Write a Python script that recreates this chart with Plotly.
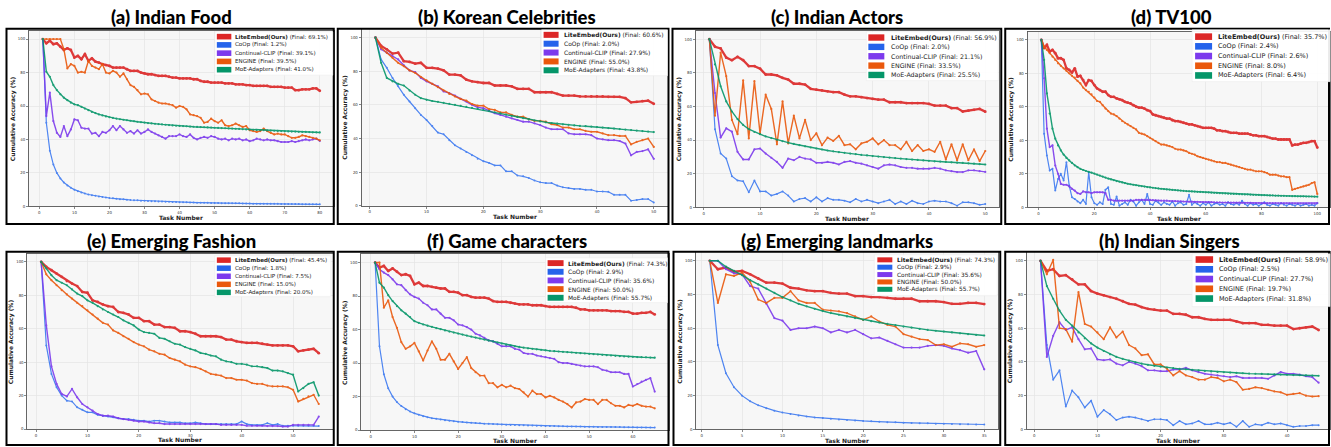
import plotly.graph_objects as go

W, H = 1331, 447

methods = ["LiteEmbed(Ours)", "CoOp", "Continual-CLIP", "ENGINE", "MoE-Adapters"]
titles = ["(a) Indian Food", "(b) Korean Celebrities", "(c) Indian Actors", "(d) TV100",
          "(e) Emerging Fashion", "(f) Game characters", "(g) Emerging landmarks", "(h) Indian Singers"]

# ---------------- (a) Indian Food ----------------
a_final = [69.1, 1.2, 39.1, 39.5, 41.0]
a_lite = [100, 97.5, 99, 97, 97.5, 95.5, 93.5, 94.5, 93.5, 89,
          90, 88, 91, 87, 88.5, 86.5, 86, 85, 84.5, 84,
          83, 83, 83, 83, 82, 81, 81, 81, 80, 79.5,
          79, 79, 78.5, 78, 78, 78, 77.5, 77, 77, 76.5,
          76.5, 76.5, 76.5, 76, 76, 75, 74.5, 74.5, 74, 74,
          74, 74, 73.5, 73.5, 73.5, 73, 73, 73, 72.5, 72.5,
          72, 72, 72, 72, 72, 71.5, 71.5, 71.5, 71.5, 71,
          71, 71, 69.5, 69.5, 70, 70, 70, 70.5, 70.5, 69.1]
a_coop = [100, 50, 33.3, 25, 20, 16.7, 14.3, 12.5, 11.1, 10,
          9.1, 8.3, 7.7, 7.1, 6.7, 6.3, 5.9, 5.6, 5.3, 5,
          4.8, 4.5, 4.3, 4.2, 4, 3.8, 3.7, 3.6, 3.4, 3.3,
          3.2, 3.1, 3, 2.9, 2.9, 2.8, 2.7, 2.6, 2.6, 2.5,
          2.4, 2.4, 2.3, 2.3, 2.2, 2.2, 2.1, 2.1, 2, 2,
          2, 1.9, 1.9, 1.9, 1.8, 1.8, 1.8, 1.7, 1.7, 1.7,
          1.6, 1.6, 1.6, 1.6, 1.5, 1.5, 1.5, 1.5, 1.4, 1.4,
          1.4, 1.4, 1.4, 1.4, 1.3, 1.3, 1.3, 1.3, 1.3, 1.2]
a_clip = [100, 54, 68, 51, 44, 41.5, 48, 42, 46, 52,
          51.5, 47, 46.5, 46.5, 43.5, 44, 42, 44.5, 44, 45.5,
          48, 45.5, 48, 46, 44, 45, 43.5, 45.5, 43.5, 44.5,
          46, 44.5, 43.5, 42.5, 41.5, 40.5, 42, 42, 42, 43,
          42, 41.5, 43, 41, 40, 41, 41.5, 41, 42, 41.5,
          40.5, 40, 40.5, 39.5, 40.5, 40, 40.5, 39.5, 40, 39,
          39.5, 40.5, 40, 39.5, 40, 39.5, 39.5, 39, 38.5, 38.5,
          38.5, 39, 38.5, 39, 39.5, 40, 39.5, 40, 40.5, 39.1]
a_engine = [100, 100, 100, 100, 100, 100, 94, 82.5, 85, 84,
            80, 80.5, 80, 87, 84, 83, 82, 85, 80, 79.5,
            81, 80, 77.5, 79.5, 76, 72.5, 71.5, 69.5, 67, 67.5,
            67, 64, 63, 62, 61.5, 61.5, 61, 60.5, 59, 60,
            59.5, 58, 55, 54.5, 54, 53, 50, 50.5, 52.5, 51,
            50, 51.5, 48.5, 48, 48.5, 49.5, 48.5, 47.5, 48, 45.5,
            45, 44.5, 45, 46.5, 45, 44, 43, 43.5, 43, 43,
            42, 41, 41, 41.5, 42.5, 42, 41.5, 41, 40.5, 39.5]
a_moe = [100, 80.5, 77.5, 72.5, 69.5, 67, 65, 63.5, 62, 61,
         60.5, 59.5, 58.5, 57.5, 56.5, 55.8, 55, 54.4, 53.8, 53.3,
         52.9, 52.5, 52.1, 51.8, 51.5, 51.2, 50.9, 50.6, 50.3, 50.1,
         49.8, 49.6, 49.4, 49.2, 49, 48.8, 48.6, 48.4, 48.2, 48.1,
         48, 47.9, 47.7, 47.6, 47.5, 47.4, 47.3, 47.2, 47.1, 47,
         46.9, 46.8, 46.7, 46.6, 46.5, 46.4, 46.3, 46.1, 46, 45.9,
         45.8, 45.7, 45.6, 45.5, 45.4, 45.3, 45.2, 45.1, 45, 44.9,
         44.8, 44.7, 44.7, 44.6, 44.5, 44.5, 44.4, 44.3, 44.3, 44.2]

# ---------------- (b) Korean Celebrities ----------------
b_final = [60.6, 2.0, 27.9, 55.0, 43.8]
b_lite = [100, 95, 93, 90.5, 91, 86, 85.5, 84.5, 85, 82,
          82, 81.5, 80.5, 78, 78, 77.5, 75, 74, 73.5, 73,
          73, 71.5, 71.5, 71.5, 71, 69.5, 69.5, 69.5, 67.5, 67.5,
          67.5, 67.5, 66.5, 65.5, 65.5, 65.5, 65, 65, 65, 65,
          65, 64.8, 64.8, 64.8, 64, 61.5, 61.8, 62.2, 62.5, 60.6]
b_coop = [100, 87, 82, 76, 71, 66, 62, 58, 54, 51,
          47.5, 43.5, 42.5, 39, 36, 34, 32, 30, 28, 26.5,
          25.5, 24, 24, 20.5, 20.5, 18, 17.5, 16.5, 15, 14,
          13.5, 13.5, 12, 11, 10.5, 10, 10, 9.5, 9.5, 8.5,
          8.5, 8.3, 6.5, 6.5, 6.5, 3, 3.5, 4, 4, 2]
b_clip = [100, 93, 91, 89, 87, 83.5, 80.5, 79.5, 76, 74,
          72.5, 71, 68, 67, 65.5, 63.5, 62, 60, 58.5, 58,
          56.5, 55, 54, 53, 52, 51, 50, 50, 49, 48,
          46.5, 45.5, 45.5, 45.5, 43, 42.5, 42.5, 42.5, 42, 40,
          39.5, 39, 39, 38.5, 37, 30, 32, 32.5, 33.5, 27.9]
b_engine = [100, 94, 91, 88, 85, 83, 80.5, 79, 76.5, 74.5,
            72.5, 70.5, 68.5, 66.5, 65, 63.5, 62.5, 60.5, 59.5, 59.5,
            57.5, 57, 55.5, 55.5, 54, 53, 53, 51.5, 50.5, 50.5,
            50, 48.5, 48, 46.5, 46.5, 45.5, 45.5, 44.5, 44, 44,
            43, 42, 42, 41.5, 41.5, 36.5, 38, 39, 40, 35]
b_moe = [100, 85, 76, 74, 72.5, 71.5, 68.5, 66, 64, 63,
         62.3, 61.8, 61.2, 60.6, 60, 59.4, 58.8, 58.2, 57.6, 57,
         56.3, 55.6, 54.9, 54.2, 53.5, 52.8, 52.1, 51.4, 50.7, 50.1,
         49.6, 49.2, 48.8, 48.4, 48.1, 47.8, 47.5, 47.3, 47.1, 46.8,
         46.5, 46.2, 45.9, 45.6, 45.3, 45, 44.7, 44.4, 44.1, 43.8]

# ---------------- (c) Indian Actors ----------------
c_final = [56.9, 2.0, 21.1, 33.5, 25.5]
c_lite = [100, 95.5, 94.5, 89, 87.5, 89.5, 87.5, 84, 84, 82.5,
          79, 79, 78.5, 77, 76, 73.5, 73.5, 73, 70.5, 70,
          69.5, 69, 68.5, 68.5, 67, 66, 66, 65.5, 65, 64.5,
          64, 64, 62.5, 62.5, 62.5, 62, 62, 62, 62, 61.5,
          60.5, 60.5, 60.5, 59, 59, 57, 57.5, 58, 58.5, 56.9]
c_coop = [100, 46.5, 32, 29, 18.5, 16, 15.5, 9, 16, 9.5,
          9.5, 7, 8, 9.5, 7, 3.5, 5, 5.5, 3.5, 6,
          3.5, 5.5, 4.5, 4.5, 4, 3, 5, 3.5, 4.5, 3.5,
          2.5, 3.5, 4.5, 2, 3.5, 2, 4, 2.5, 2, 3.5,
          4, 3.5, 3.5, 2.5, 1, 3, 3, 2.5, 1.5, 2]
c_clip = [100, 68, 41.5, 47, 45, 33, 28.5, 28.5, 34.5, 35,
          32, 29.5, 27, 23.5, 29, 28, 30, 29, 28.5, 26.5,
          26.5, 27, 26.5, 25.5, 27, 27.5, 26.5, 26, 25, 24,
          23, 25, 25.5, 25, 24, 23.5, 23.5, 23, 23, 23,
          23.5, 23, 22, 21.5, 21, 21, 22, 22, 21.5, 21.1]
c_engine = [100, 54.5, 92, 78, 52, 43.5, 75.5, 41, 75, 44,
            67, 58.5, 37.5, 63, 38, 54.5, 41, 52, 40, 44,
            37, 41.5, 39.5, 42.5, 37, 37.5, 34.5, 38, 39, 41,
            37.5, 40, 37, 37, 34.5, 39, 33.5, 37, 33.5, 34.5,
            33, 39, 28.5, 37.5, 28, 37.5, 28, 34.5, 27.5, 33.5]
c_moe = [100, 85, 72, 63, 57, 52.5, 49, 46.5, 44.8, 43.5,
         42.2, 41.2, 40.2, 39.3, 38.5, 37.7, 37, 36.3, 35.6, 35,
         34.4, 33.8, 33.3, 32.8, 32.4, 32, 31.6, 31.2, 30.9, 30.5,
         30.2, 29.9, 29.6, 29.3, 29, 28.7, 28.4, 28.2, 27.9, 27.7,
         27.4, 27.2, 27, 26.8, 26.6, 26.4, 26.2, 26, 25.7, 25.5]

# ---------------- (d) TV100 ----------------
d_final = [35.7, 2.4, 2.6, 8.0, 6.4]
d_lite = [100, 95, 97, 93, 94, 92, 89, 89, 88, 83,
          82, 80.5, 83, 78, 78.5, 76, 73, 76, 75.5, 73,
          71, 70, 69, 69, 67, 66, 66, 65, 64.5, 64,
          63, 62.5, 62, 61, 60, 59.5, 59.5, 59, 58, 57.5,
          55.5, 55, 54.5, 54, 53.5, 53, 53, 52, 51.5, 51.5,
          51, 50.5, 50, 49.5, 49.5, 49, 48.5, 48, 47.5, 47.5,
          47.5, 47.5, 47, 46, 46, 45.5, 45.5, 45, 44.5, 44.5,
          44.5, 44, 44, 44, 44, 43.5, 43, 43, 42.5, 42.5,
          42.5, 42, 41.5, 41, 41, 40.5, 40.5, 40.5, 40.5, 40.5,
          37, 37.5, 37.5, 38, 38.5, 38.5, 39, 39.5, 39.5, 35.7]
d_coop = [100, 44, 31, 22, 23, 10, 17, 20, 16, 27,
          13, 6, 5, 3.5, 2.5, 4.5, 2, 21, 6, 2.5,
          1.5, 3, 2, 10.5, 12, 2, 1.5, 6.5, 1, 2,
          3, 1.5, 4.5, 3.5, 1, 3, 4.5, 2, 8, 2,
          1.5, 4, 3, 1.5, 3, 2, 1.5, 3.5, 1, 2.5,
          3, 1.5, 2, 7.5, 1.5, 3, 2, 1, 2.5, 1.5,
          3, 1, 2, 2.5, 1.5, 2, 1, 3, 2, 1.5,
          2.5, 1.5, 4, 2, 1, 2.5, 1.5, 2, 1, 2,
          3, 1.5, 1, 2, 1.5, 1, 2.5, 1.5, 1, 2,
          1.5, 1, 2, 1, 1.5, 2, 1, 1.5, 1, 2.4]
d_clip = [100, 77, 47, 36, 37, 25, 20, 14, 13.5, 13.5,
          12.5, 11, 10, 8.5, 8, 9.5, 9, 9, 8.5, 9,
          9, 9, 9, 8.5, 4.5, 4.5, 4, 4, 4, 4,
          4, 4, 4, 4, 4.5, 4.5, 4.5, 4.5, 4.5, 4.5,
          4.3, 4.2, 4.1, 4, 4, 4, 3.8, 3.8, 3.7, 3.6,
          3.6, 3.5, 3.5, 3.4, 3.4, 3.3, 3.3, 3.2, 3.2, 3.1,
          3.1, 3.1, 3, 3, 3, 2.9, 2.9, 2.9, 2.8, 2.8,
          2.8, 2.8, 2.7, 2.7, 2.7, 2.7, 2.6, 2.6, 2.6, 2.6,
          2.5, 2.5, 2.5, 2.5, 2.5, 2.4, 2.4, 2.4, 2.4, 2.4,
          2.4, 2.3, 2.3, 2.3, 2.3, 2.3, 2.3, 2.3, 2.2, 2.6]
d_engine = [100, 96, 94, 92, 90, 88, 86, 84.5, 83, 81.5,
            80, 78.5, 77.5, 75.5, 74, 71.5, 70, 69, 67.5, 65.5,
            63.5, 63, 61, 59, 57.5, 56, 55.5, 54.5, 53, 51.5,
            50.5, 49.5, 48.5, 47.5, 46.5, 44.5, 44, 43.5, 42.5, 41.5,
            40.5, 39.5, 38.5, 37.5, 37.5, 37, 36.5, 36, 35, 34.5,
            34.5, 34, 33.5, 32.5, 32, 31.5, 30.5, 30, 29.5, 29,
            28.5, 28, 27.5, 27, 27, 26.5, 26.5, 26, 25.5, 25,
            24.5, 24, 23.5, 23, 22.5, 22.5, 22, 21.5, 21.5, 21.5,
            21, 20.5, 19.5, 19.5, 19.5, 19, 18.5, 18.5, 18, 18,
            10.5, 11, 11.5, 12, 12.5, 13, 13.5, 14.5, 15, 8]
d_moe = [100, 88, 68, 56, 47, 41, 37, 34, 31.5, 29.5,
         28, 26.5, 25, 24, 23, 22.3, 21.7, 21.2, 20.7, 20.2,
         19.6, 19, 18.4, 17.8, 17.2, 16.7, 16.2, 15.7, 15.3, 14.9,
         14.5, 14.1, 13.8, 13.5, 13.2, 12.9, 12.6, 12.4, 12.1, 11.9,
         11.7, 11.5, 11.3, 11.1, 10.9, 10.7, 10.6, 10.4, 10.3, 10.1,
         10, 9.9, 9.7, 9.6, 9.5, 9.4, 9.3, 9.2, 9.1, 9,
         8.9, 8.8, 8.7, 8.6, 8.5, 8.4, 8.3, 8.2, 8.1, 8,
         8, 7.9, 7.8, 7.7, 7.7, 7.6, 7.5, 7.5, 7.4, 7.3,
         7.3, 7.2, 7.1, 7.1, 7, 7, 6.9, 6.9, 6.8, 6.8,
         6.7, 6.7, 6.6, 6.6, 6.6, 6.5, 6.5, 6.5, 6.4, 6.4]

# ---------------- (e) Emerging Fashion ----------------
e_final = [45.4, 1.8, 7.5, 15.0, 20.0]
e_lite = [100, 97, 95, 93, 91, 88.5, 87, 85.5, 82, 81.5,
          77, 76, 74.5, 73.5, 73, 70, 69.5, 68.5, 66.5, 66.5,
          64.5, 64.5, 62.5, 62.5, 61, 61, 60.5, 58.5, 58.5, 58,
          57, 55.5, 55.5, 55.5, 55.5, 55, 53.5, 53.5, 52.5, 52,
          51.5, 51.5, 51.5, 51, 50.5, 50, 50, 50, 50, 49.5,
          46.5, 47, 47.5, 48, 45.4]
e_coop = [100, 50, 33, 25, 20, 17, 16.5, 13, 11.5, 10,
          10, 8.5, 8, 7.5, 7, 6.5, 6, 6, 5.5, 5,
          5, 4.5, 5, 5, 4.5, 4, 4, 4, 3.5, 3.5,
          4, 3.5, 3, 3, 3, 3, 3, 3, 3, 4.5,
          3, 2.5, 2.5, 2.5, 3.5, 2.5, 3, 2, 2, 2,
          2, 2, 2, 2, 1.8]
e_clip = [100, 62, 37.5, 27, 21, 19.5, 24, 19, 15, 13,
          11, 9, 8, 8, 7.5, 6.5, 6, 5.5, 5, 4.5,
          4.5, 4, 3.5, 3.5, 3, 3, 3, 3, 3, 3,
          3, 3, 3, 3, 3, 2.5, 2.5, 2.5, 2.5, 2.5,
          2, 2, 2, 2, 1.8, 1.8, 1.8, 1.5, 1.5, 2.5,
          2.5, 2.5, 2.5, 2.5, 7.5]
e_engine = [100, 92.5, 89, 86, 83, 80.5, 78, 75.5, 73.5, 71,
            68.5, 66, 63.5, 62.5, 59, 57.5, 55.5, 54, 52, 50.5,
            49.5, 47.5, 46.5, 45, 44.5, 42.5, 41.5, 40.5, 38.5, 37.5,
            37, 36, 34.5, 33, 32.5, 32, 30.5, 30.5, 29.5, 29.5,
            29, 27.5, 27, 27, 26, 25.5, 25.5, 25.5, 25, 23.5,
            16.5, 18, 19.5, 20.5, 15]
e_moe = [100, 96, 92, 89, 87.5, 86, 83.5, 81, 79.5, 77,
         75.5, 73.5, 71.5, 70, 68.5, 67, 65, 63.5, 62, 59.5,
         58, 57.5, 57, 54.5, 54, 52.5, 51, 50.5, 49, 48,
         47, 45.5, 45, 44, 43.5, 41.5, 40.5, 40, 39, 39,
         38.5, 37.5, 37.5, 37, 36.5, 35, 35, 34.5, 33.5, 32.5,
         22.5, 24.5, 27, 28, 20]

# ---------------- (f) Game characters ----------------
f_final = [74.3, 2.9, 35.6, 50.0, 55.7]
f_lite = [100, 97, 98, 95, 96.5, 94.5, 92.5, 93, 92, 87,
          88, 86, 86, 85.5, 85, 84.5, 84.5, 82.5, 82.5, 82,
          80.5, 80.5, 79.5, 79, 79, 79, 78.5, 77, 76.5, 76.5,
          76.5, 76, 75.5, 75, 75, 75, 74.5, 74.5, 74.5, 74,
          73.5, 73.5, 73.5, 73.5, 73.5, 73.5, 73, 72, 72, 71.5,
          71.5, 71.5, 71.5, 71.5, 71, 71, 71, 70.5, 70.5, 69.5,
          69.5, 70, 70, 70.5, 69]
f_coop = [100, 50, 33.3, 25, 20, 16.7, 14.3, 12.5, 11.1, 10,
          9.1, 8.3, 7.7, 7.1, 6.7, 6.3, 5.9, 5.6, 5.3, 5,
          4.8, 4.5, 4.3, 4.2, 4, 3.8, 3.7, 3.6, 3.4, 3.3,
          3.2, 3.1, 3, 2.9, 2.9, 2.8, 2.7, 2.6, 2.6, 2.5,
          2.4, 2.4, 2.3, 2.3, 2.2, 2.2, 2.1, 2.1, 2, 2,
          2, 1.9, 1.9, 1.9, 1.8, 1.8, 1.8, 1.7, 1.7, 1.7,
          1.6, 1.6, 1.6, 1.6, 1.5]
f_clip = [100, 96, 94, 92.5, 90, 87, 86.5, 83.5, 81, 79.5,
          78.5, 76, 74.5, 72, 72, 69.5, 67, 67, 65.5, 63,
          62.5, 61.5, 60, 57.5, 56.5, 55, 53.5, 53, 51.5, 50,
          50, 50, 48.5, 48, 46, 45.5, 45.5, 44.5, 44, 43.5,
          43, 42.5, 40.5, 40, 40, 39.5, 39, 38.5, 38, 38,
          38, 37.5, 36, 35.5, 34.5, 34.5, 34.5, 33.5, 33.5, 26,
          27.5, 29, 30, 31, 23]
f_engine = [100, 100, 73, 77.5, 67.5, 61, 52.5, 48.5, 50, 52,
            47, 41.5, 47.5, 53, 48.5, 42, 42, 45.5, 41, 36.5,
            40, 43.5, 37, 34.5, 32.5, 32.5, 28, 28, 25.5, 27,
            25.5, 26.5, 25, 24.5, 22.5, 20, 23.5, 21.5, 21.5, 19.5,
            20.5, 19.5, 18, 17, 15.5, 13.5, 16.5, 17, 18.5, 18,
            18, 15.5, 18, 18, 16, 14.5, 14.5, 13.5, 15, 14.5,
            15.5, 14.5, 14, 14, 13]
f_moe = [100, 88, 85, 80.5, 77, 74, 71.5, 69.5, 67.5, 65,
         64, 63, 62.3, 61.6, 60.9, 60.2, 59.5, 58.8, 58.2, 57.6,
         57, 56.4, 55.8, 55.2, 54.6, 54, 53.4, 52.8, 52.2, 51.6,
         51, 50.5, 50, 49.6, 49.2, 48.8, 48.5, 48.2, 47.9, 47.6,
         47.3, 47.1, 46.9, 46.7, 46.5, 46.3, 46.1, 45.9, 45.7, 45.5,
         45.3, 45.1, 44.9, 44.7, 44.5, 44.3, 44.1, 43.9, 43.8, 43.7,
         43.6, 43.5, 43.4, 43.3, 43.2]

# ---------------- (g) Emerging landmarks ----------------
g_final = [74.3, 2.9, 35.6, 50.0, 55.7]
g_lite = [100, 95, 96, 93.5, 94, 92, 89.5, 87, 87, 86.5,
          84, 83.5, 82.5, 82, 82, 81, 80.5, 80.5, 79, 79,
          78.5, 78.5, 78, 77.5, 77.5, 77.5, 76, 76, 76, 75.5,
          74.5, 74.5, 75, 75, 74.3]
g_coop = [100, 50, 33.3, 25, 20, 16.7, 14.3, 12.5, 11.1, 10,
          9.1, 8.3, 7.7, 7.1, 6.7, 6.3, 5.9, 5.6, 5.3, 5,
          4.8, 4.5, 4.3, 4.2, 4, 3.8, 3.7, 3.6, 3.4, 3.3,
          3.2, 3.1, 3, 2.9, 2.9]
g_clip = [100, 100, 95, 92.5, 92, 85, 83.5, 74.5, 66, 64.5,
          59, 60, 60, 61, 60, 57.5, 59, 57.5, 59, 56.5,
          54, 54.5, 52.5, 50.5, 48.5, 48.5, 48.5, 49.5, 50, 49.5,
          48, 47, 45.5, 46.5, 35.6]
g_engine = [100, 75, 92, 91, 93, 87.5, 77, 75, 78, 78,
            82, 76.5, 75, 75, 71, 70.5, 70, 69, 67, 65,
            67, 64, 62, 61, 56.5, 55, 53.5, 53, 50, 50.5,
            49, 51, 50.5, 49, 50]
g_moe = [100, 100, 96.5, 94, 91.5, 88.5, 86, 83.5, 81, 78.5,
         76.5, 74.5, 73, 71.5, 70.2, 69, 68, 67, 66, 65,
         64.2, 63.4, 62.6, 61.8, 61, 60.3, 59.6, 59, 58.5, 58,
         57.5, 57, 56.5, 56, 55.7]

# ---------------- (h) Indian Singers ----------------
h_final = [58.9, 2.5, 27.7, 19.7, 31.8]
h_lite = [100, 94, 95, 91, 91.5, 89, 86, 86, 82, 80.5,
          79.5, 78.5, 77.5, 76, 74.5, 74, 72.5, 71.5, 71, 70.5,
          70.5, 68.5, 68.5, 68, 66.5, 66.5, 65.5, 65, 65, 65,
          65, 64, 63, 63, 63, 62, 62, 61.5, 61.5, 61.5,
          59.5, 60, 60.5, 61, 58.9]
h_coop = [100, 50, 29.5, 35, 13.5, 23, 19, 13, 17, 7.5,
          11.5, 9, 5.5, 7, 7.5, 7, 6, 5, 6, 6,
          5.5, 2.5, 5, 3, 3.5, 5, 3, 3, 4, 3,
          4, 1.5, 5, 1.5, 3, 2.5, 4, 3, 3.5, 2.5,
          1.5, 2, 2, 2.5, 2.5]
h_clip = [100, 43, 55.5, 63.5, 59, 60.5, 53.5, 47.5, 48, 41.5,
          41, 41.5, 39, 38, 40, 39, 37.5, 35, 35, 34.5,
          34.5, 35.5, 35.5, 36.5, 35, 34, 33, 32.5, 32, 31.5,
          31, 31.5, 30.5, 30.5, 30.5, 30.5, 30, 32, 34, 33,
          33, 32.5, 31.5, 31, 27.7]
h_engine = [100, 92, 100.5, 60, 59.5, 52, 81.5, 62.5, 61, 57.5,
            53.5, 60.5, 54.5, 58, 50, 48, 44, 44.5, 38.5, 38.5,
            36, 32, 34.5, 32, 31, 29.5, 29.5, 31, 30.5, 28.5,
            29.5, 28, 23.5, 24, 25, 24.5, 23.5, 22.5, 22, 20.5,
            21, 21.5, 20, 19.5, 19.7]
h_moe = [100, 85, 77.5, 70.5, 65, 61.5, 57.5, 54, 51, 48.5,
         46.5, 44.5, 43, 41.8, 40.8, 39.8, 39, 38.3, 37.7, 37.2,
         36.7, 36.3, 35.9, 35.6, 35.3, 35, 34.7, 34.4, 34.1, 33.9,
         33.7, 33.5, 33.3, 33.1, 33, 32.9, 32.7, 32.6, 32.5, 32.4,
         32.2, 32.1, 32, 31.9, 31.8]

y_ticks = [0, 20, 40, 60, 80, 100]

# ---------------- layout / styling (pixels) ----------------
series = [
    (a_lite, a_coop, a_clip, a_engine, a_moe),
    (b_lite, b_coop, b_clip, b_engine, b_moe),
    (c_lite, c_coop, c_clip, c_engine, c_moe),
    (d_lite, d_coop, d_clip, d_engine, d_moe),
    (e_lite, e_coop, e_clip, e_engine, e_moe),
    (f_lite, f_coop, f_clip, f_engine, f_moe),
    (g_lite, g_coop, g_clip, g_engine, g_moe),
    (h_lite, h_coop, h_clip, h_engine, h_moe),
]
finals = [a_final, b_final, c_final, d_final, e_final, f_final, g_final, h_final]

# plot-area px box (left, top, right, bottom), x range, x dtick
geom = [
    dict(box=(29.0, 30.9, 333.9, 207.3), xr=(-2.95, 83.95), dt=10),
    dict(box=(361.8, 29.3, 668.2, 206.7), xr=(-1.45, 52.45), dt=10),
    dict(box=(696.1, 30.9, 999.8, 208.3), xr=(-1.45, 52.45), dt=10),
    dict(box=(1028.3, 31.6, 1331.0, 208.3), xr=(-3.95, 104.55), dt=20),
    dict(box=(27.3, 254.6, 332.9, 431.0), xr=(-1.7, 57.7), dt=10),
    dict(box=(361.4, 255.3, 669.2, 432.0), xr=(-2.2, 68.2), dt=10),
    dict(box=(696.6, 253.5, 998.7, 431.3), xr=(-0.7, 36.7), dt=5),
    dict(box=(1027.4, 253.5, 1331.0, 431.3), xr=(-1.2, 46.8), dt=10),
]
frames = [(6.5, 29, 334, 225), (338, 29, 669, 225), (673, 29, 1002, 225), (1006, 29, 1330, 225),
          (6.5, 253, 334, 447), (338, 253, 669, 447), (674, 253, 1001, 447), (1006, 253, 1330, 447)]
title_pos = [(172, 17), (507, 17), (838, 17), (1172, 17),
             (172, 242), (507, 242), (838, 242), (1170, 242)]
# legend: box(l,t,r,b), first row y, row step, patch x0, x1, text x, font size
legends = [
    ((215, 32, 333, 75.5), 36.8, 8.3, 217, 231.5, 234.5, 5.55),
    ((542, 30, 668, 76), 35.0, 8.9, 544, 559, 563.5, 5.95),
    ((867, 32, 999, 81), 37.7, 9.4, 869, 885, 890.5, 6.3),
    ((1193, 30, 1331, 82), 36.8, 9.75, 1196, 1213, 1217.5, 6.5),
    ((215, 257, 331, 298), 261.3, 8.1, 217, 231, 234.5, 5.5),
    ((546, 259, 668, 304), 264.3, 8.7, 548, 564, 567.5, 5.95),
    ((875, 256, 998, 297), 261.0, 7.4, 878, 893, 896.5, 5.85),
    ((1193, 255, 1331, 308), 260.7, 9.8, 1196.5, 1214, 1218.5, 6.5),
]

line_colors = ["#dc2626", "#3b78f0", "#7c3aed", "#ea580c", "#059669"]
patch_colors = ["#dc2626", "#2563eb", "#7c3aed", "#ea580c", "#059669"]
line_widths = [2.3, 1.2, 1.4, 1.4, 1.4]
marker_sizes = [2.8, 2.0, 2.2, 2.2, 2.2]


def px(x):
    return x / W


def py(y):
    return 1 - y / H


fig = go.Figure()
layout = dict(
    width=W, height=H, autosize=False,
    margin=dict(l=0, r=0, t=0, b=0),
    paper_bgcolor="white", plot_bgcolor="#f7f7f7",
    showlegend=False,
    font=dict(family="DejaVu Sans", color="#222"),
)
shapes = []
annotations = []

tickfont = dict(family="DejaVu Sans", size=3.9, color="#333")

for i in range(8):
    k = "" if i == 0 else str(i + 1)
    g = geom[i]
    L, T, R, B = g["box"]
    layout["xaxis" + k] = dict(
        domain=[px(L), px(R)], range=list(g["xr"]), anchor="y" + k,
        dtick=g["dt"], tick0=0, showgrid=True, gridcolor="#e4e4e4", gridwidth=0.7,
        zeroline=False, showline=True, linecolor="#555", linewidth=0.9, mirror=True,
        ticks="outside", ticklen=2, tickwidth=0.7, tickcolor="#555", tickfont=tickfont,
    )
    layout["yaxis" + k] = dict(
        domain=[py(B), py(T)], range=[0, 105], anchor="x" + k,
        tickvals=y_ticks, showgrid=True, gridcolor="#e4e4e4", gridwidth=0.7,
        zeroline=False, showline=True, linecolor="#555", linewidth=0.9, mirror=True,
        ticks="outside", ticklen=2, tickwidth=0.7, tickcolor="#555", tickfont=tickfont,
    )
    for j in range(5):
        vals = series[i][j]
        tasks = list(range(1, len(vals) + 1))
        fig.add_trace(go.Scatter(
            x=tasks, y=vals, mode="lines+markers",
            xaxis="x" + k, yaxis="y" + k,
            line=dict(color=line_colors[j], width=line_widths[j]),
            marker=dict(color=line_colors[j], size=marker_sizes[j]),
            opacity=0.9, showlegend=False, hoverinfo="skip",
        ))

    # panel frame
    fx0, fy0, fx1, fy1 = frames[i]
    shapes.append(dict(type="rect", xref="paper", yref="paper",
                       x0=px(fx0), x1=px(fx1), y0=py(fy1), y1=py(fy0),
                       line=dict(color="black", width=2), fillcolor="rgba(0,0,0,0)", layer="above"))
    # title
    tx, ty = title_pos[i]
    annotations.append(dict(text=titles[i], x=px(tx), y=py(ty), xref="paper", yref="paper",
                            showarrow=False, xanchor="center", yanchor="middle",
                            font=dict(family="Lato", size=18.5, weight=900, color="black")))
    # axis titles
    annotations.append(dict(text="<b>Task Number</b>", x=px((L + R) / 2), y=py(B + 10.8),
                            xref="paper", yref="paper", showarrow=False, borderpad=0,
                            xanchor="center", yanchor="middle",
                            font=dict(family="DejaVu Sans", size=6.0, color="#222")))
    annotations.append(dict(text="<b>Cumulative Accuracy (%)</b>", x=px(L - 16.3), y=py((T + B) / 2),
                            xref="paper", yref="paper", showarrow=False, textangle=-90, borderpad=0,
                            xanchor="center", yanchor="middle",
                            font=dict(family="DejaVu Sans", size=6.0, color="#222")))
    # legend
    (lx0, ly0, lx1, ly1), r0, dy, p0, p1, tx0, fs = legends[i]
    shapes.append(dict(type="rect", xref="paper", yref="paper",
                       x0=px(lx0), x1=px(lx1), y0=py(ly1), y1=py(ly0),
                       line=dict(color="#ececec", width=0.6), fillcolor="rgba(255,255,255,0.92)",
                       layer="above"))
    ph = dy * 0.68
    for j in range(5):
        yc = r0 + j * dy
        shapes.append(dict(type="rect", xref="paper", yref="paper",
                           x0=px(p0), x1=px(p1), y0=py(yc + ph / 2), y1=py(yc - ph / 2),
                           line=dict(width=0), fillcolor=patch_colors[j], layer="above"))
        name = methods[j]
        if j == 0:
            name = "<b>" + name + "</b>"
        label = f"{name} (Final: {finals[i][j]:.1f}%)"
        annotations.append(dict(text=label, x=px(tx0), y=py(yc), xref="paper", yref="paper",
                                showarrow=False, xanchor="left", yanchor="middle", borderpad=0,
                                font=dict(family="DejaVu Sans", size=fs, color="#222")))

layout["shapes"] = shapes
layout["annotations"] = annotations
fig.update_layout(**layout)
fig.write_html(
    "out.html",
    config={"displayModeBar": False, "staticPlot": True},
    post_script="document.body.style.margin='0';document.body.style.padding='0';"
                "document.body.style.overflow='hidden';",
)
